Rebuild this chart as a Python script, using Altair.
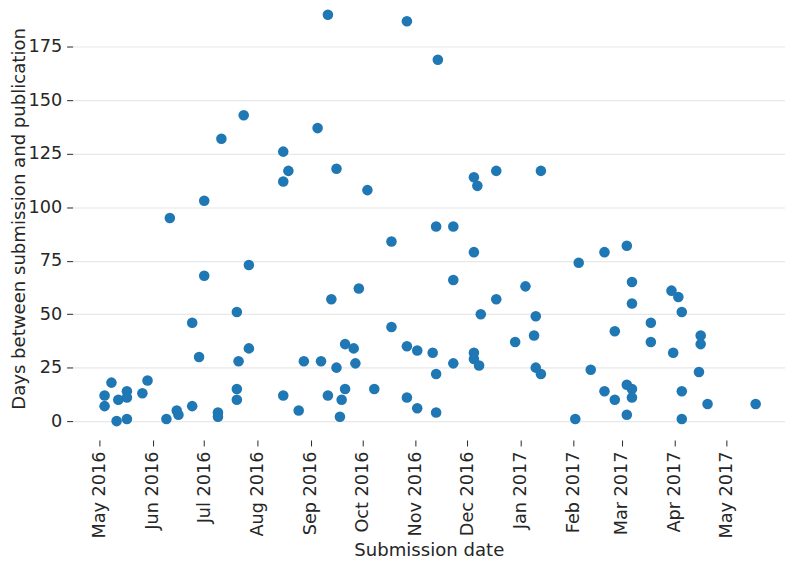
import altair as alt
import pandas as pd

submission_dates = [
    "2016-07-24", "2016-07-11", "2016-07-01", "2016-06-11", "2016-07-01", "2016-07-27",
    "2016-07-20", "2016-06-24", "2016-07-27", "2016-06-28", "2016-07-21", "2016-05-08",
    "2016-05-29", "2016-07-20", "2016-05-04", "2016-05-17", "2016-05-26", "2016-05-12",
    "2016-05-17", "2016-05-04", "2016-07-20", "2016-05-11", "2016-05-17", "2016-06-09",
    "2016-06-15", "2016-06-16", "2016-06-24", "2016-07-09", "2016-07-09",
    "2016-09-11", "2016-10-27", "2016-11-14", "2016-09-05", "2016-08-16", "2016-08-19",
    "2016-08-16", "2016-09-16", "2016-10-04", "2016-11-13", "2016-11-23", "2016-10-18",
    "2016-11-23", "2016-09-29", "2016-09-13", "2016-10-18", "2016-09-21", "2016-09-26",
    "2016-10-27", "2016-11-02", "2016-11-11", "2016-11-23", "2016-08-28", "2016-09-07",
    "2016-09-27", "2016-09-16", "2016-11-13", "2016-08-16", "2016-09-11", "2016-09-21",
    "2016-09-19", "2016-10-08", "2016-10-27", "2016-11-02", "2016-11-13", "2016-08-25",
    "2016-09-18",
    "2016-12-05", "2016-12-07", "2016-12-18", "2017-01-13", "2016-12-05", "2017-02-19",
    "2017-03-04", "2017-02-04", "2017-03-07", "2017-03-07", "2017-01-04", "2016-12-18",
    "2016-12-09", "2017-01-10", "2017-03-18", "2017-02-25", "2017-01-09", "2017-03-18",
    "2016-12-29", "2016-12-05", "2016-12-05", "2016-12-08", "2017-01-10", "2017-01-13",
    "2017-02-11", "2017-03-04", "2017-03-07", "2017-02-19", "2017-02-25", "2017-03-07",
    "2017-03-04", "2017-02-02",
    "2017-03-30", "2017-04-03", "2017-04-05", "2017-04-16", "2017-04-16", "2017-03-31",
    "2017-04-15", "2017-04-05", "2017-04-20", "2017-05-18", "2017-04-05",
]

days_to_publication = [
    143, 132, 103, 95, 68, 73,
    51, 46, 34, 30, 28, 18,
    19, 15, 12, 14, 13, 10,
    11, 7, 10, 0, 1, 1,
    5, 3, 7, 4, 2,
    190, 187, 169, 137, 126, 117,
    112, 118, 108, 91, 91, 84,
    66, 62, 57, 44, 36, 34,
    35, 33, 32, 27, 28, 28,
    27, 25, 22, 12, 12, 15,
    10, 15, 11, 6, 4, 5,
    2,
    114, 110, 117, 117, 79, 79,
    82, 74, 65, 55, 63, 57,
    50, 49, 46, 42, 40, 37,
    37, 32, 29, 26, 25, 22,
    24, 17, 15, 14, 10, 11,
    3, 1,
    61, 58, 51, 40, 36, 32,
    23, 14, 8, 8, 1,
]

y_ticks = [0, 25, 50, 75, 100, 125, 150, 175]
month_ticks = [(2016, m) for m in range(5, 13)] + [(2017, m) for m in range(1, 6)]

df = pd.DataFrame({
    "date": pd.to_datetime(submission_dates),
    "days": days_to_publication,
})

x_domain = [
    alt.DateTime(year=2016, month=4, date=15, hours=9),
    alt.DateTime(year=2017, month=6, date=4, hours=2),
]
x_values = [alt.DateTime(year=y, month=m, date=1) for (y, m) in month_ticks]

FONT = "DejaVu Sans"
TXT = "#262626"
LABEL_SIZE = 17.8
TITLE_SIZE = 18.2

chart = alt.Chart(df).mark_circle(
    size=113, opacity=1, color="#1f77b4", strokeWidth=0
).encode(
    x=alt.X(
        "date:T",
        title="Submission date",
        scale=alt.Scale(domain=x_domain, nice=False),
        axis=alt.Axis(
            values=x_values,
            format="%b %Y",
            formatType="time",
            labelAngle=270,
            grid=False,
            domain=False,
            tickSize=6,
            tickColor=TXT,
            tickWidth=1,
            labelPadding=5,
            labelFontSize=LABEL_SIZE,
            labelColor=TXT,
            labelFont=FONT,
            labelOverlap=False,
            titleFont=FONT,
            titleFontSize=TITLE_SIZE,
            titleFontWeight="normal",
            titleColor=TXT,
            titleBaseline="alphabetic",
            titleY=116,
        ),
    ),
    y=alt.Y(
        "days:Q",
        title="Days between submission and publication",
        scale=alt.Scale(domain=[-8.83, 192.33], nice=False, zero=False),
        axis=alt.Axis(
            values=y_ticks,
            grid=True,
            gridColor="#e8e8e8",
            gridWidth=1.2,
            domain=False,
            tickSize=6,
            tickColor=TXT,
            tickWidth=1,
            labelPadding=5,
            labelFontSize=LABEL_SIZE,
            labelColor=TXT,
            labelFont=FONT,
            titleFont=FONT,
            titleFontSize=TITLE_SIZE,
            titleFontWeight="normal",
            titleColor=TXT,
            titleBaseline="top",
            titleAngle=270,
            titleX=-62,
            titleY=210,
        ),
    ),
).properties(
    width=717,
    height=433,
    padding={"left": 65, "top": 0, "right": 0, "bottom": 118},
    autosize=alt.AutoSizeParams(type="none"),
).configure_view(stroke=None)

chart.save("out.html", embed_options={"renderer": "svg", "actions": False})
